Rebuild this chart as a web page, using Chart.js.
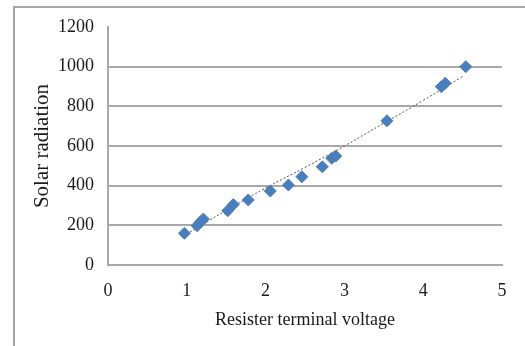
<!DOCTYPE html>
<html>
<head>
<meta charset="utf-8">
<script src="https://cdn.jsdelivr.net/npm/chart.js@4"></script>
<style>
  html, body { margin: 0; padding: 0; background: #fff; overflow: hidden; }
  #wrap { position: relative; width: 525px; height: 346px; }
  #frame { position: absolute; left: 13px; top: 6px; width: 600px; height: 400px;
           border-left: 2px solid #a6a6a6; border-top: 2px solid #a6a6a6; }
  canvas { position: absolute; left: 0; top: 0; }
</style>
</head>
<body>
<div id="wrap">
  <div id="frame"></div>
  <canvas id="chart" width="525" height="346"></canvas>
</div>
<script>
// measured points (resister terminal voltage vs solar radiation)
const voltage = [0.97, 1.13, 1.17, 1.21, 1.52, 1.59, 1.78, 2.06, 2.29, 2.46, 2.72, 2.84, 2.89, 3.54, 4.23, 4.28, 4.54];
const radiation = [160, 198, 215, 232, 274, 305, 328, 373, 403, 445, 495, 538, 549, 727, 899, 916, 1000];

// trend line
const trendX = [0.95, 1.5, 2.0, 2.5, 3.0, 3.5, 4.0, 4.5];
const trendY = [145, 275, 388, 492, 600, 715, 830, 950];

const xTitle = 'Resister terminal voltage';
const yTitle = 'Solar radiation';

const gridColor = '#a8a8a8';
const serif = "'Liberation Serif', 'Times New Roman', serif";

const points = voltage.map((v, i) => ({ x: v, y: radiation[i] }));
const trend = trendX.map((v, i) => ({ x: v, y: trendY[i] }));

new Chart(document.getElementById('chart'), {
  type: 'scatter',
  data: {
    datasets: [
      {
        label: 'trend',
        data: trend,
        showLine: true,
        borderColor: '#505050',
        borderWidth: 1,
        borderDash: [2, 2],
        pointRadius: 0,
        tension: 0.4,
        order: 2
      },
      {
        label: 'measured',
        data: points,
        pointStyle: 'rectRot',
        pointRadius: 6,
        pointBackgroundColor: '#4a7ebb',
        pointBorderColor: '#4a7ebb',
        pointBorderWidth: 1,
        order: 1
      }
    ]
  },
  options: {
    responsive: false,
    animation: false,
    events: [],
    layout: { padding: { top: 27, right: 23, bottom: 0, left: 0 } },
    plugins: { legend: { display: false }, tooltip: { enabled: false } },
    scales: {
      x: {
        min: 0, max: 5,
        afterFit: (s) => { s.height = 81; },
        grid: { display: false, drawTicks: false },
        border: { display: true, color: gridColor, width: 2 },
        ticks: { stepSize: 1, padding: 15, color: '#1a1a1a', font: { family: serif, size: 18 },
                 callback: (v) => String(v) },
        title: { display: true, text: xTitle, color: '#1a1a1a', padding: { top: 0, bottom: 15 },
                 font: { family: serif, size: 18 } }
      },
      y: {
        min: 0, max: 1200,
        afterFit: (s) => { s.width = 108; },
        grid: {
          drawTicks: false,
          lineWidth: 2,
          color: (ctx) => (ctx.tick && ctx.tick.value === 1200) ? 'rgba(0,0,0,0)' : gridColor
        },
        border: { display: true, color: gridColor, width: 2 },
        ticks: { stepSize: 200, padding: 14, color: '#1a1a1a', font: { family: serif, size: 18 },
                 callback: (v) => String(v) },
        title: { display: true, text: yTitle, color: '#1a1a1a', padding: { top: 30, bottom: 0 },
                 font: { family: serif, size: 21 } }
      }
    }
  }
});
</script>
</body>
</html>
